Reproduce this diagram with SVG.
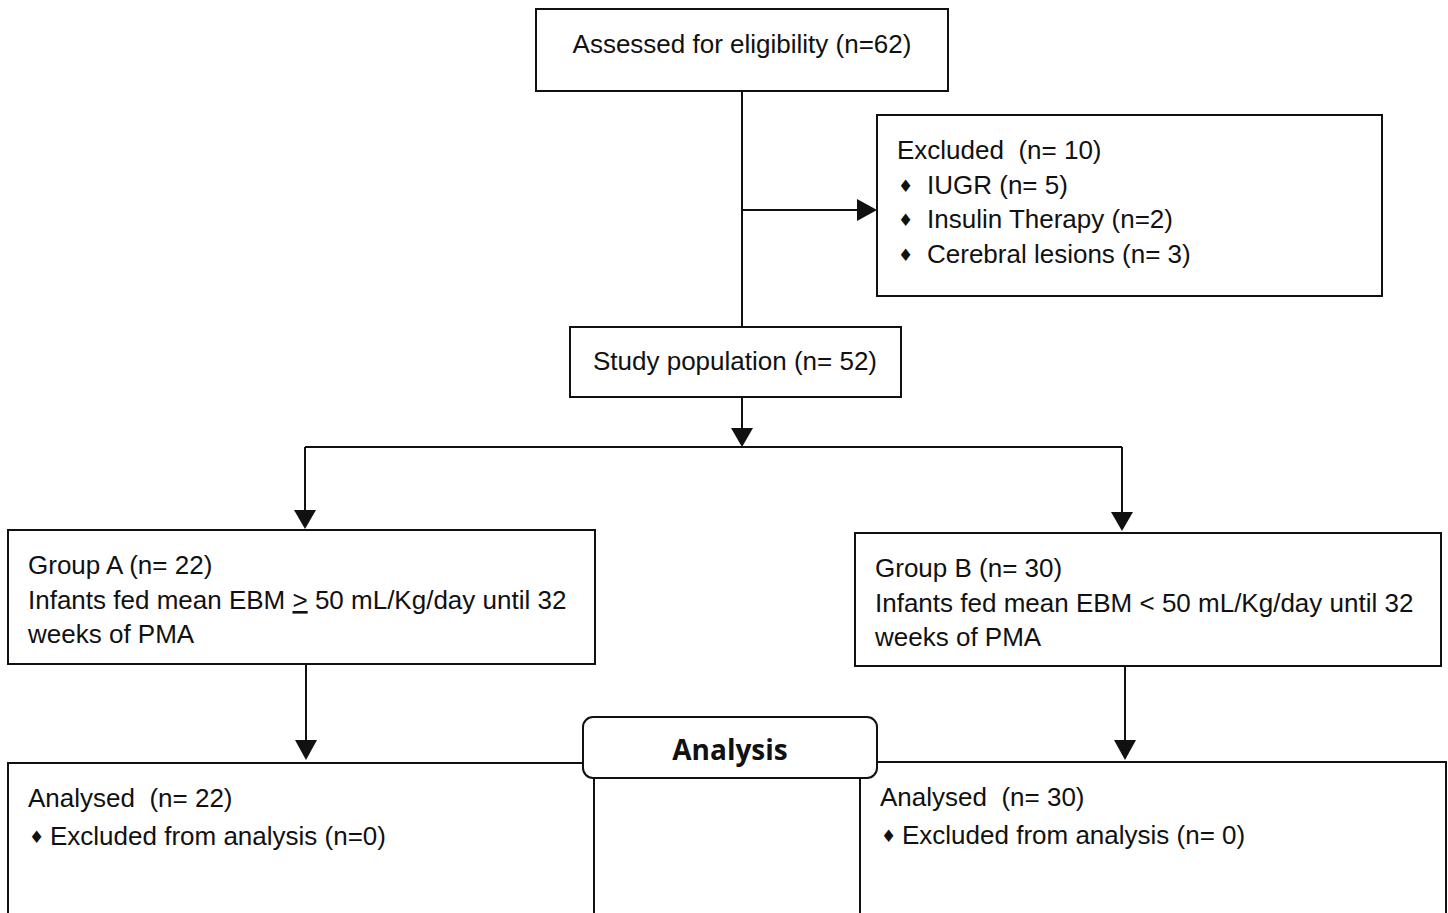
<svg xmlns="http://www.w3.org/2000/svg" width="1448" height="913" viewBox="0 0 1448 913">
<style>
.box{fill:#fff;stroke:#111;stroke-width:2}
.t{font-family:"Liberation Sans",Arial,sans-serif;font-size:26px;fill:#111;white-space:pre}
.d{font-family:"DejaVu Sans",sans-serif;font-size:17px;fill:#111}
.c{stroke:#111;stroke-width:2;fill:none}
.h{fill:#111}
.b{font-family:"Open Sans","DejaVu Sans",sans-serif;font-size:28px;font-weight:bold;fill:#111}
</style>
<rect width="1448" height="913" fill="#fff"/>
<g id="connectors">
<line class="c" x1="742" y1="91" x2="742" y2="327"/>
<line class="c" x1="742" y1="210" x2="860" y2="210"/>
<polygon class="h" points="857,199 877,210 857,221"/>
<line class="c" x1="742" y1="397" x2="742" y2="430"/>
<polygon class="h" points="731,428 753,428 742,447"/>
<line class="c" x1="305" y1="447" x2="1122" y2="447"/>
<line class="c" x1="305" y1="447" x2="305" y2="512"/>
<polygon class="h" points="294,510 316,510 305,529"/>
<line class="c" x1="1122" y1="447" x2="1122" y2="514"/>
<polygon class="h" points="1111,512 1133,512 1122,531"/>
<line class="c" x1="306" y1="664" x2="306" y2="742"/>
<polygon class="h" points="295,740 317,740 306,760"/>
<line class="c" x1="1125" y1="666" x2="1125" y2="742"/>
<polygon class="h" points="1114,740 1136,740 1125,760"/>
</g>
<g id="assessed">
<rect class="box" x="536" y="9" width="412" height="82"/>
<text class="t" x="742" y="53" text-anchor="middle">Assessed for eligibility (n=62)</text>
</g>
<g id="excluded">
<rect class="box" x="877" y="115" width="505" height="181"/>
<text class="t" x="897" y="159">Excluded  (n= 10)</text>
<text class="d" x="898" y="192">♦</text>
<text class="t" x="927" y="194">IUGR (n= 5)</text>
<text class="d" x="898" y="226">♦</text>
<text class="t" x="927" y="228">Insulin Therapy (n=2)</text>
<text class="d" x="898" y="261">♦</text>
<text class="t" x="927" y="263">Cerebral lesions (n= 3)</text>
</g>
<g id="study">
<rect class="box" x="570" y="327" width="331" height="70"/>
<text class="t" x="735" y="370" text-anchor="middle">Study population (n= 52)</text>
</g>
<g id="groupA">
<rect class="box" x="8" y="530" width="587" height="134"/>
<text class="t" x="28" y="574">Group A (n= 22)</text>
<text class="t" x="28" y="609">Infants fed mean EBM <tspan text-decoration="underline">&gt;</tspan> 50 mL/Kg/day until 32</text>
<text class="t" x="28" y="643">weeks of PMA</text>
</g>
<g id="groupB">
<rect class="box" x="855" y="533" width="586" height="133"/>
<text class="t" x="875" y="577">Group B (n= 30)</text>
<text class="t" x="875" y="612">Infants fed mean EBM &lt; 50 mL/Kg/day until 32</text>
<text class="t" x="875" y="646">weeks of PMA</text>
</g>
<g id="analysedA">
<rect class="box" x="8" y="763" width="586" height="170"/>
<text class="t" x="28" y="807">Analysed  (n= 22)</text>
<text class="d" x="29" y="843">♦</text>
<text class="t" x="50" y="845">Excluded from analysis (n=0)</text>
</g>
<g id="analysedB">
<rect class="box" x="860" y="762" width="586" height="170"/>
<text class="t" x="880" y="806">Analysed  (n= 30)</text>
<text class="d" x="881" y="842">♦</text>
<text class="t" x="902" y="844">Excluded from analysis (n= 0)</text>
</g>
<g id="analysis">
<rect class="box" x="583" y="717" width="294" height="61" rx="10"/>
<text class="b" x="730" y="760" text-anchor="middle">Analysis</text>
</g>
</svg>
